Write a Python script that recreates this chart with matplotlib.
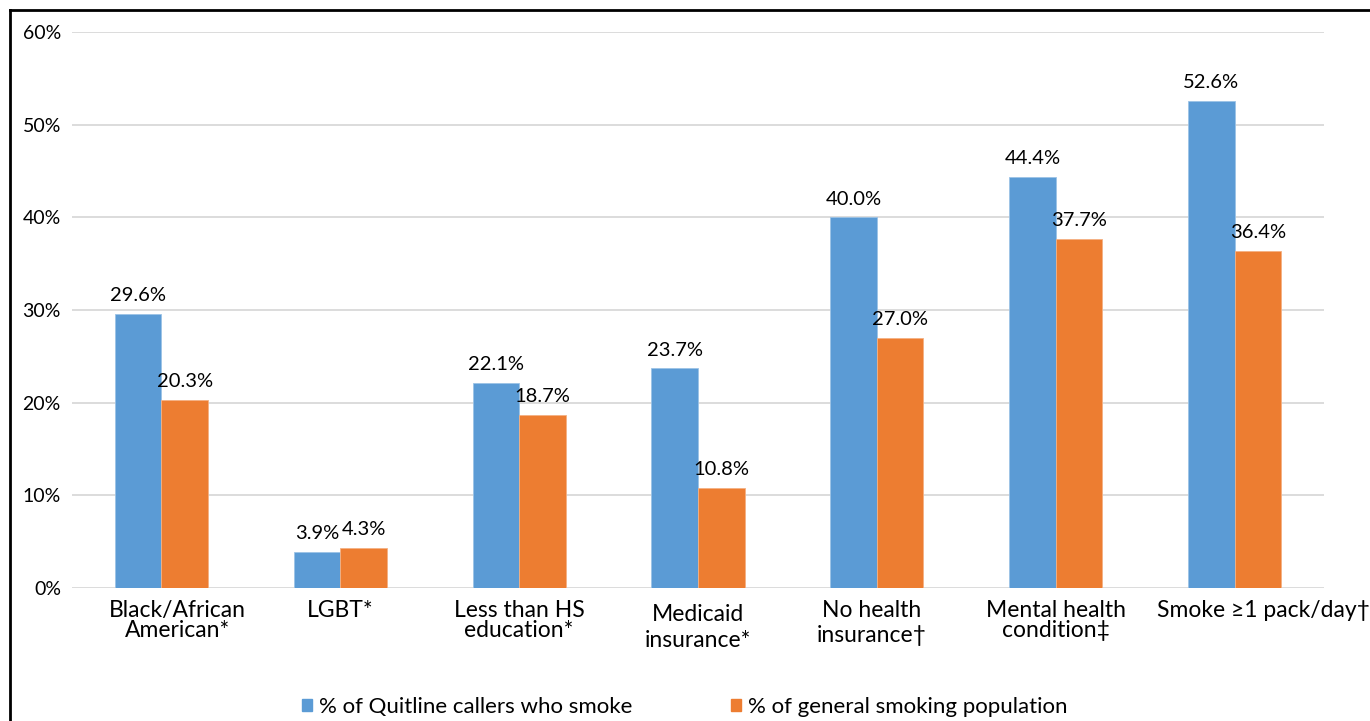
import matplotlib
matplotlib.use("Agg")
import matplotlib.pyplot as plt
from matplotlib.lines import Line2D
from matplotlib.ticker import FuncFormatter
import numpy as np

plt.rcParams['font.family'] = ['Lato', 'DejaVu Sans']

categories = [
    "Black/African\nAmerican*",
    "LGBT*",
    "Less than HS\neducation*",
    "Medicaid\ninsurance*",
    "No health\ninsurance\u2020",
    "Mental health\ncondition\u2021",
    "Smoke \u22651 pack/day\u2020",
]
quitline = [29.6, 3.9, 22.1, 23.7, 40.0, 44.4, 52.6]
general = [20.3, 4.3, 18.7, 10.8, 27.0, 37.7, 36.4]
series_names = ["% of Quitline callers who smoke", "% of general smoking population"]

blue = "#5B9BD5"
orange = "#ED7D31"

fig = plt.figure(figsize=(13.7, 7.21), dpi=100)
ax = fig.add_axes([72 / 1370, 1 - 588 / 721, (1324 - 72) / 1370, (588 - 32) / 721])

x = np.arange(len(categories))
w = 0.26
b1 = ax.bar(x - w / 2, quitline, w, color=blue, edgecolor="#9cc3e6", linewidth=0.6,
            label=series_names[0], zorder=3)
b2 = ax.bar(x + w / 2, general, w, color=orange, edgecolor="#f4b183", linewidth=0.6,
            label=series_names[1], zorder=3)

ax.bar_label(b1, labels=[f"{v:.1f}%" for v in quitline], padding=7, fontsize=14.5)
ax.bar_label(b2, labels=[f"{v:.1f}%" for v in general], padding=7, fontsize=14.5)

ax.set_xlim(-0.5, len(categories) - 0.5)
ax.set_ylim(0, 60)
ax.set_yticks(np.arange(0, 61, 10))
ax.yaxis.set_major_formatter(FuncFormatter(lambda v, _: f"{v:.0f}%"))
ax.grid(axis="y", color="#d9d9d9", linewidth=1.3, zorder=0)
ax.set_axisbelow(True)
for s in ax.spines.values():
    s.set_visible(False)
ax.tick_params(axis="y", length=0, labelsize=14, pad=8)
ax.tick_params(axis="x", length=0)
ax.set_xticks(x)
ax.set_xticklabels([])

# category labels, nudged where long text spills over the group
nudge = [0.09, 0, 0, 0, -0.03, 0, 0.16]
spacing = [0.95, 0.95, 0.95, 1.3, 1.25, 0.95, 0.95]
top = [-1.3, -1.3, -1.3, -1.7, -1.3, -1.3, -1.3]
for i, lab in enumerate(categories):
    ax.text(i + nudge[i], top[i], lab, ha="center", va="top", fontsize=16.5,
            linespacing=spacing[i], transform=ax.transData)

handles = [plt.Rectangle((0, 0), 1, 1, color=blue), plt.Rectangle((0, 0), 1, 1, color=orange)]
fig.legend(handles, series_names, loc="lower center", bbox_to_anchor=(0.5, -0.022),
           ncol=2, frameon=False, fontsize=16, handlelength=0.45, handleheight=0.45,
           handletextpad=0.3, columnspacing=4.45)

# outer frame (top and left edges)
fig.add_artist(Line2D([10 / 1370, 1], [1 - 10 / 721, 1 - 10 / 721], color="black",
                      linewidth=2, transform=fig.transFigure))
fig.add_artist(Line2D([10 / 1370, 10 / 1370], [0, 1 - 10 / 721], color="black",
                      linewidth=2, transform=fig.transFigure))

fig.savefig("out.png", dpi=100)
